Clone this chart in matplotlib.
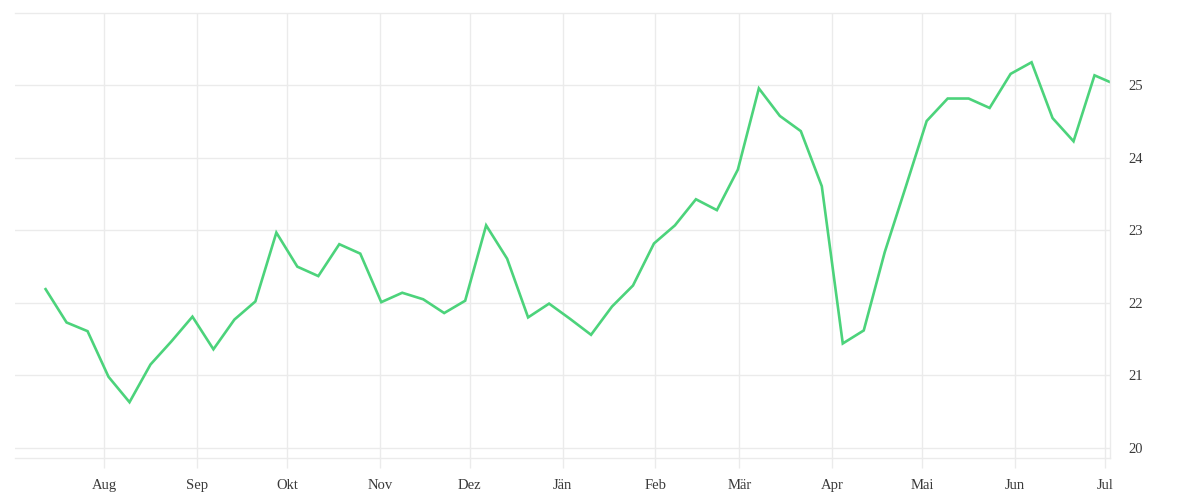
import matplotlib
matplotlib.use('Agg')
import matplotlib.pyplot as plt
import matplotlib.dates as mdates
import numpy as np
from datetime import datetime, timedelta

# Wochenwerte
start = datetime(2024, 7, 12, 12)
values = [22.19, 21.73, 21.61, 20.98, 20.63, 21.15, 21.47, 21.81, 21.36, 21.77,
          22.02, 22.97, 22.50, 22.37, 22.81, 22.68, 22.01, 22.14, 22.05, 21.86,
          22.03, 23.07, 22.61, 21.80, 21.99, 21.78, 21.56, 21.95, 22.24, 22.82,
          23.07, 23.43, 23.28, 23.84, 24.96, 24.58, 24.37, 23.61, 21.44, 21.62,
          22.70, 23.60, 24.51, 24.82, 24.82, 24.69, 25.16, 25.32, 24.55, 24.23,
          25.14, 25.05]
dates = [start + timedelta(days=7 * i) for i in range(len(values) - 1)]
dates.append(dates[-1] + timedelta(days=5))  # letzter Wert: laufende Woche

month_ticks = [datetime(2024, m, 1) for m in range(8, 13)] + \
              [datetime(2025, m, 1) for m in range(1, 8)]
month_labels = ['Aug', 'Sep', 'Okt', 'Nov', 'Dez', 'Jän', 'Feb', 'Mär',
                'Apr', 'Mai', 'Jun', 'Jul']
y_ticks = [20, 21, 22, 23, 24, 25]

grid_c = '#ebebeb'
text_c = '#3a3a3a'

plt.rcParams['font.family'] = ['Liberation Serif', 'DejaVu Serif']

fig = plt.figure(figsize=(12, 5), dpi=100)
ax = fig.add_axes([15 / 1200, 42 / 500, 1095 / 1200, 445 / 500])

ax.plot(dates, values, color='#4cd37b', linewidth=1.9, solid_joinstyle='miter')

ax.set_xlim(datetime(2024, 7, 2, 7), datetime(2025, 7, 2, 16))
ax.set_ylim(19.86, 26.0)

ax.set_xticks(month_ticks)
ax.set_xticklabels(month_labels)
ax.set_yticks(y_ticks)
ax.yaxis.tick_right()

ax.grid(True, color=grid_c, linewidth=1)
ax.set_axisbelow(True)

ax.tick_params(axis='x', length=7.5, width=1, color=grid_c, pad=7.5,
               labelsize=10.5, labelcolor=text_c)
ax.tick_params(axis='y', length=0, pad=13, labelsize=10.5, labelcolor=text_c)

ax.spines['left'].set_visible(False)
for s in ['top', 'bottom', 'right']:
    ax.spines[s].set_color(grid_c)
    ax.spines[s].set_linewidth(1)

fig.savefig('out.png', dpi=100, facecolor='white')
